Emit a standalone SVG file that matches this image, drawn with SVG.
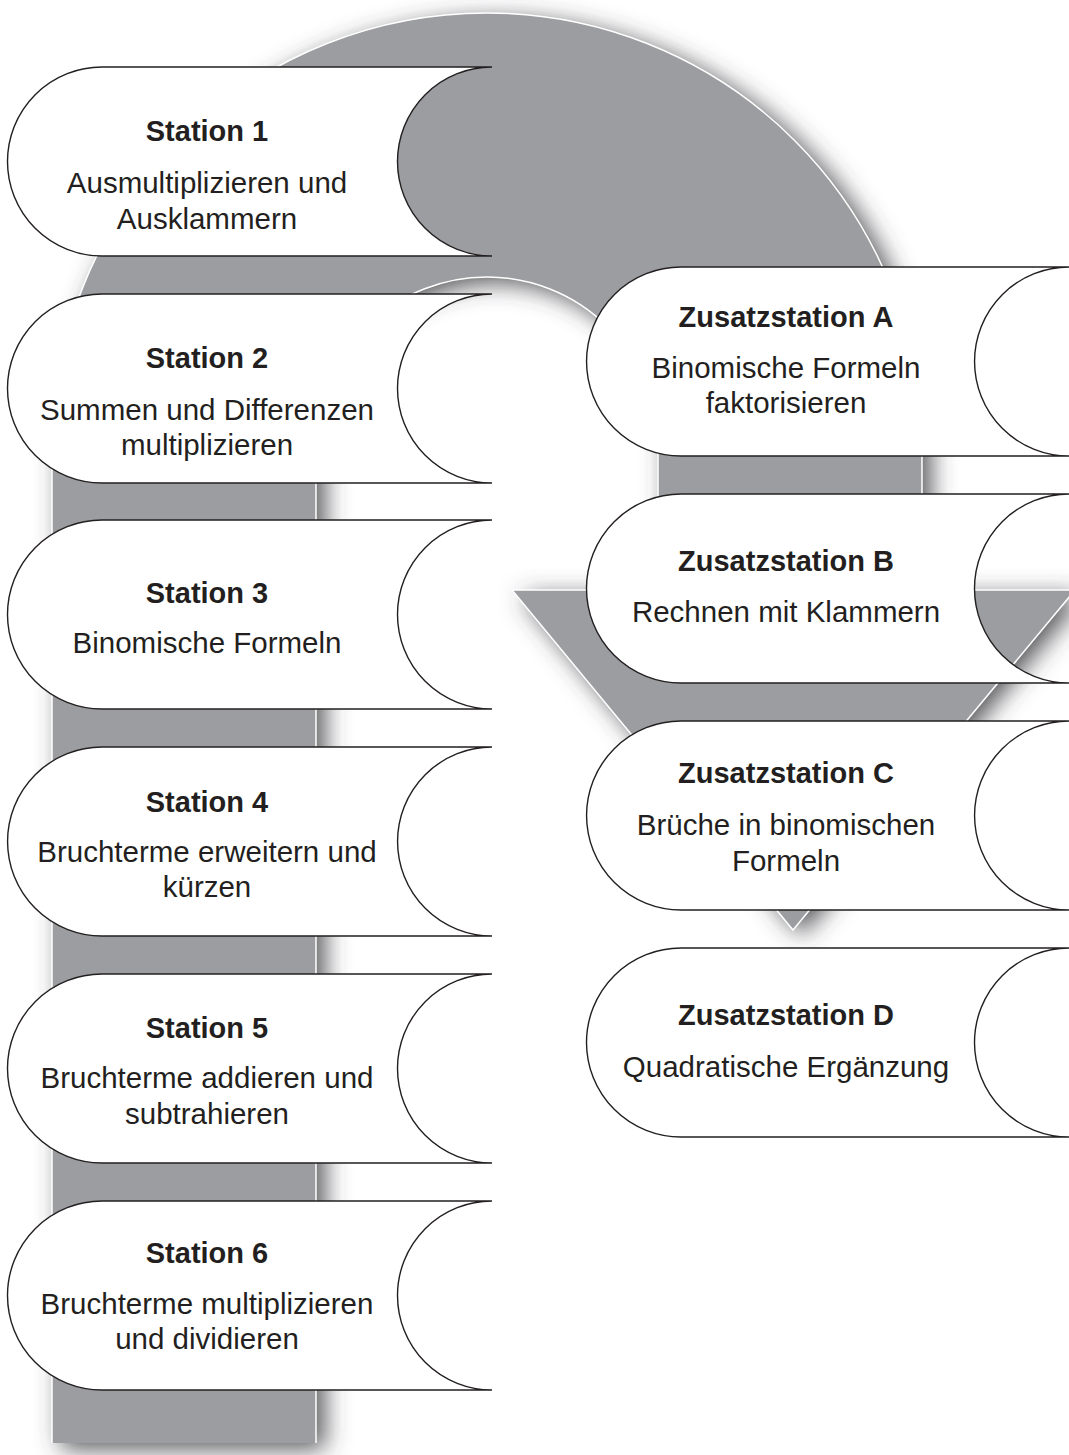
<svg xmlns="http://www.w3.org/2000/svg" width="1069" height="1455" viewBox="0 0 1069 1455">
<style>
.pill{fill:#fff;stroke:#231f20;stroke-width:1.4}
.t{font-family:"Liberation Sans",Arial,sans-serif;font-weight:bold;font-size:29px;fill:#231f20;text-anchor:middle}
.b{font-family:"Liberation Sans",Arial,sans-serif;font-size:29.5px;fill:#231f20;text-anchor:middle}
</style>
<defs>
<filter id="sh" x="-10%" y="-10%" width="125%" height="125%">
<feGaussianBlur in="SourceAlpha" stdDeviation="12" result="blur"/>
<feOffset in="blur" dx="9" dy="6" result="off"/>
<feFlood flood-color="#3c3c40" flood-opacity="0.85"/>
<feComposite in2="off" operator="in" result="shadow"/>
<feMerge><feMergeNode in="shadow"/><feMergeNode in="SourceGraphic"/></feMerge>
</filter>
</defs>
<rect width="1069" height="1455" fill="#fff"/>
<g id="flow-arrow">
<path d="M52,1443 L52,448 A435,435 0 0 1 922,448 L922,590 L1075,590 L793,930 L512,590 L658,590 L658,448 A171,171 0 0 0 316,448 L316,1443 Z" fill="#9c9da1" filter="url(#sh)"/>
<path d="M52,1443 L52,448 A435,435 0 0 1 922,448 L922,590 L1075,590 L793,930 L512,590 L658,590 L658,448 A171,171 0 0 0 316,448 L316,1443" fill="none" stroke="#fff" stroke-width="1.5"/>
</g>
<g id="station-1">
<path class="pill" d="M492,67 L102,67 A94.5,94.5 0 0 0 102,256 L492,256 A94.5,94.5 0 0 1 492,67 Z"/>
<text class="t" x="207" y="141">Station 1</text>
<text class="b" x="207" y="193">Ausmultiplizieren und</text>
<text class="b" x="207" y="229">Ausklammern</text>
</g>
<g id="station-2">
<path class="pill" d="M492,294 L102,294 A94.5,94.5 0 0 0 102,483 L492,483 A94.5,94.5 0 0 1 492,294 Z"/>
<text class="t" x="207" y="368">Station 2</text>
<text class="b" x="207" y="420">Summen und Differenzen</text>
<text class="b" x="207" y="455">multiplizieren</text>
</g>
<g id="station-3">
<path class="pill" d="M492,520 L102,520 A94.5,94.5 0 0 0 102,709 L492,709 A94.5,94.5 0 0 1 492,520 Z"/>
<text class="t" x="207" y="603">Station 3</text>
<text class="b" x="207" y="653">Binomische Formeln</text>
</g>
<g id="station-4">
<path class="pill" d="M492,747 L102,747 A94.5,94.5 0 0 0 102,936 L492,936 A94.5,94.5 0 0 1 492,747 Z"/>
<text class="t" x="207" y="812">Station 4</text>
<text class="b" x="207" y="862">Bruchterme erweitern und</text>
<text class="b" x="207" y="897">kürzen</text>
</g>
<g id="station-5">
<path class="pill" d="M492,974 L102,974 A94.5,94.5 0 0 0 102,1163 L492,1163 A94.5,94.5 0 0 1 492,974 Z"/>
<text class="t" x="207" y="1038">Station 5</text>
<text class="b" x="207" y="1088">Bruchterme addieren und</text>
<text class="b" x="207" y="1124">subtrahieren</text>
</g>
<g id="station-6">
<path class="pill" d="M492,1201 L102,1201 A94.5,94.5 0 0 0 102,1390 L492,1390 A94.5,94.5 0 0 1 492,1201 Z"/>
<text class="t" x="207" y="1263">Station 6</text>
<text class="b" x="207" y="1314">Bruchterme multiplizieren</text>
<text class="b" x="207" y="1349">und dividieren</text>
</g>
<g id="zusatzstation-a">
<path class="pill" d="M1069,267 L681,267 A94.5,94.5 0 0 0 681,456 L1069,456 A94.5,94.5 0 0 1 1069,267 Z"/>
<text class="t" x="786" y="327">Zusatzstation A</text>
<text class="b" x="786" y="378">Binomische Formeln</text>
<text class="b" x="786" y="413">faktorisieren</text>
</g>
<g id="zusatzstation-b">
<path class="pill" d="M1069,494 L681,494 A94.5,94.5 0 0 0 681,683 L1069,683 A94.5,94.5 0 0 1 1069,494 Z"/>
<text class="t" x="786" y="571">Zusatzstation B</text>
<text class="b" x="786" y="622">Rechnen mit Klammern</text>
</g>
<g id="zusatzstation-c">
<path class="pill" d="M1069,721 L681,721 A94.5,94.5 0 0 0 681,910 L1069,910 A94.5,94.5 0 0 1 1069,721 Z"/>
<text class="t" x="786" y="783">Zusatzstation C</text>
<text class="b" x="786" y="835">Brüche in binomischen</text>
<text class="b" x="786" y="871">Formeln</text>
</g>
<g id="zusatzstation-d">
<path class="pill" d="M1069,948 L681,948 A94.5,94.5 0 0 0 681,1137 L1069,1137 A94.5,94.5 0 0 1 1069,948 Z"/>
<text class="t" x="786" y="1025">Zusatzstation D</text>
<text class="b" x="786" y="1077">Quadratische Ergänzung</text>
</g>
</svg>
